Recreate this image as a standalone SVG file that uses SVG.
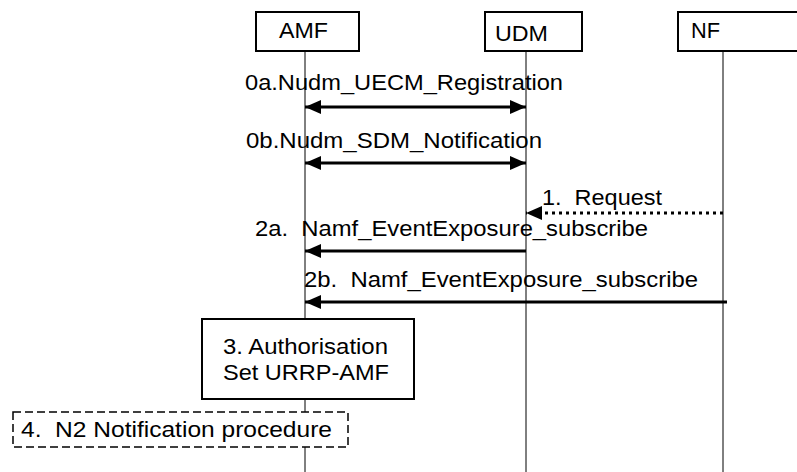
<svg xmlns="http://www.w3.org/2000/svg" width="797" height="472" viewBox="0 0 797 472">
<style>
text{font-family:"Liberation Sans",Arial,sans-serif;font-size:22px;fill:#000;white-space:pre}
.box{fill:#fff;stroke:#000;stroke-width:2}
.dbox{fill:#fff;stroke:#000;stroke-width:1.5;stroke-dasharray:8 4}
.life{stroke:#000;stroke-width:1;fill:none}
.msg{stroke:#000;stroke-width:3;fill:none}
.dot{stroke:#000;stroke-width:3;fill:none;stroke-dasharray:3 4}
</style>
<defs>
<marker id="ah" markerUnits="userSpaceOnUse" markerWidth="17" markerHeight="14" refX="16" refY="7" orient="auto-start-reverse">
<path d="M0,0 L16,7 L0,14 Z" fill="#000"/>
</marker>
</defs>
<rect width="797" height="472" fill="#fff"/>
<g id="lifelines">
<line class="life" x1="305" y1="51" x2="305" y2="472"/>
<line class="life" x1="526" y1="51" x2="526" y2="472"/>
<line class="life" x1="723" y1="51" x2="723" y2="472"/>
</g>
<g id="AMF">
<rect class="box" x="256" y="12" width="103" height="39"/>
<text x="279" y="38" textLength="49" lengthAdjust="spacingAndGlyphs">AMF</text>
</g>
<g id="UDM">
<rect class="box" x="485" y="12" width="97" height="39"/>
<text x="495" y="41" textLength="53" lengthAdjust="spacingAndGlyphs">UDM</text>
</g>
<g id="NF">
<rect class="box" x="678" y="12" width="130" height="39"/>
<text x="691" y="38" textLength="29" lengthAdjust="spacingAndGlyphs">NF</text>
</g>
<g id="connectors">
<line class="msg" x1="305" y1="107" x2="526" y2="107" marker-start="url(#ah)" marker-end="url(#ah)"/>
<line class="msg" x1="305" y1="163" x2="526" y2="163" marker-start="url(#ah)" marker-end="url(#ah)"/>
<line class="dot" x1="723" y1="213" x2="526" y2="213" marker-end="url(#ah)"/>
<line class="msg" x1="526" y1="251" x2="305" y2="251" marker-end="url(#ah)"/>
<line class="msg" x1="727" y1="302" x2="305" y2="302" marker-end="url(#ah)"/>
</g>
<g id="labels">
<text x="245" y="90" textLength="318" lengthAdjust="spacingAndGlyphs">0a.Nudm_UECM_Registration</text>
<text x="246" y="148" textLength="296" lengthAdjust="spacingAndGlyphs">0b.Nudm_SDM_Notification</text>
<text x="542" y="205" textLength="120" lengthAdjust="spacingAndGlyphs">1.  Request</text>
<text x="255" y="236" textLength="393" lengthAdjust="spacingAndGlyphs">2a.  Namf_EventExposure_subscribe</text>
<text x="304" y="287" textLength="394" lengthAdjust="spacingAndGlyphs">2b.  Namf_EventExposure_subscribe</text>
</g>
<g id="step3">
<rect class="box" x="202" y="319" width="212" height="80"/>
<text x="223" y="354" textLength="165" lengthAdjust="spacingAndGlyphs">3. Authorisation</text>
<text x="223" y="380" textLength="166" lengthAdjust="spacingAndGlyphs">Set URRP-AMF</text>
</g>
<g id="step4">
<rect class="dbox" x="13" y="412" width="335" height="35"/>
<text x="21" y="437" textLength="311" lengthAdjust="spacingAndGlyphs">4.  N2 Notification procedure</text>
</g>
</svg>
